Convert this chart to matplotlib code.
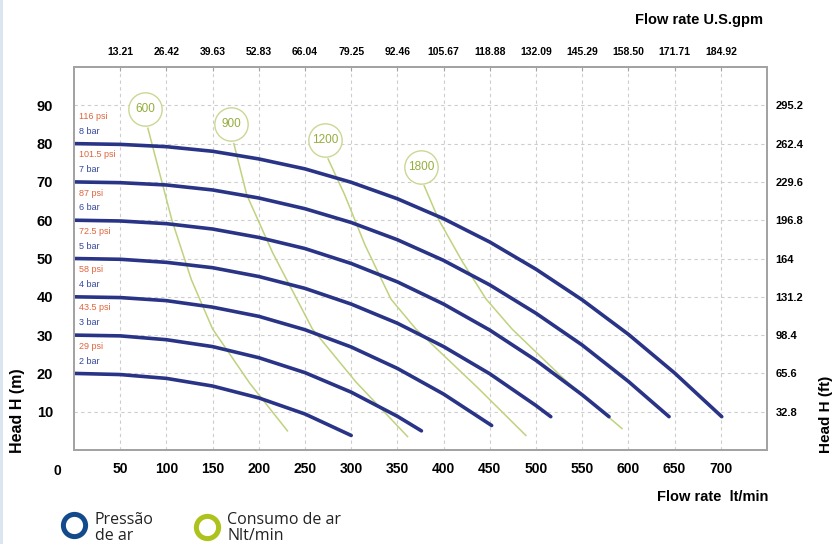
import matplotlib
matplotlib.use("Agg")
import matplotlib.pyplot as plt
from matplotlib.lines import Line2D
from matplotlib.patches import Rectangle

plt.rcParams["font.family"] = ["Liberation Sans", "DejaVu Sans"]
plt.rcParams["font.weight"] = "bold"

# Pump curves per air pressure: flow (l/min) -> head (m)
flow_2bar = [0, 50, 100, 150, 200, 250, 300]
head_2bar = [20, 19.7, 18.7, 16.7, 13.6, 9.4, 3.8]
flow_3bar = [0, 50, 100, 150, 200, 250, 300, 350, 376]
head_3bar = [30, 29.8, 28.8, 27.0, 24.1, 20.2, 15.1, 8.8, 5.0]
flow_4bar = [0, 50, 100, 150, 200, 250, 300, 350, 400, 452]
head_4bar = [40, 39.8, 39.0, 37.3, 34.9, 31.4, 26.9, 21.3, 14.6, 6.4]
flow_5bar = [0, 50, 100, 150, 200, 250, 300, 350, 400, 450, 500, 516]
head_5bar = [50, 49.8, 49.0, 47.6, 45.3, 42.2, 38.1, 33.1, 27.0, 19.9, 11.6, 8.7]
flow_6bar = [0, 50, 100, 150, 200, 250, 300, 350, 400, 450, 500, 550, 579]
head_6bar = [60, 59.8, 59.1, 57.7, 55.5, 52.6, 48.7, 43.9, 38.1, 31.3, 23.4, 14.4, 8.7]
flow_7bar = [0, 50, 100, 150, 200, 250, 300, 350, 400, 450, 500, 550, 600, 644]
head_7bar = [70, 69.8, 69.2, 67.9, 65.8, 63.0, 59.4, 54.9, 49.5, 43.1, 35.7, 27.4, 17.9, 8.7]
flow_8bar = [0, 50, 100, 150, 200, 250, 300, 350, 400, 450, 500, 550, 600, 650, 701]
head_8bar = [80, 79.8, 79.2, 78.0, 76.0, 73.4, 69.9, 65.6, 60.4, 54.3, 47.2, 39.2, 30.2, 20.1, 8.7]

bar_labels = ["2 bar", "3 bar", "4 bar", "5 bar", "6 bar", "7 bar", "8 bar"]
psi_labels = ["29 psi", "43.5 psi", "58 psi", "72.5 psi", "87 psi", "101.5 psi", "116 psi"]

# Air consumption curves (Nl/min)
air_600_flow = [80, 106, 127, 150, 190, 231]
air_600_head = [84, 60, 44.5, 31.6, 17.5, 5.0]
air_900_flow = [173, 187, 215, 258, 305, 361]
air_900_head = [80, 66.6, 51.5, 31.6, 17.8, 3.5]
air_1200_flow = [275, 293, 315, 343, 370, 438, 489]
air_1200_head = [76, 66.6, 53.5, 39.4, 31.6, 16.0, 3.8]
air_1800_flow = [379, 395, 420, 446, 474, 530, 593]
air_1800_head = [69, 60, 49.3, 39.4, 31.6, 18.6, 5.6]
air_labels = ["600", "900", "1200", "1800"]

# Axis ticks
flow_ticks = [50, 100, 150, 200, 250, 300, 350, 400, 450, 500, 550, 600, 650, 700]
gpm_labels = ["13.21", "26.42", "39.63", "52.83", "66.04", "79.25", "92.46",
              "105.67", "118.88", "132.09", "145.29", "158.50", "171.71", "184.92"]
head_ticks = [10, 20, 30, 40, 50, 60, 70, 80, 90]
feet_labels = ["32.8", "65.6", "98.4", "131.2", "164", "196.8", "229.6", "262.4", "295.2"]

pressure_curves = [
    (flow_2bar, head_2bar), (flow_3bar, head_3bar), (flow_4bar, head_4bar),
    (flow_5bar, head_5bar), (flow_6bar, head_6bar), (flow_7bar, head_7bar),
    (flow_8bar, head_8bar),
]
air_curves = [
    (air_600_flow, air_600_head), (air_900_flow, air_900_head),
    (air_1200_flow, air_1200_head), (air_1800_flow, air_1800_head),
]

BLUE = "#2a3487"
GREEN_LINE = "#bfd27e"
GREEN_TEXT = "#93ad3c"
GRID = "#cdcdcd"
FRAME = "#a3a3a3"

fig = plt.figure(figsize=(8.33, 5.44), dpi=100)
fig.patch.set_facecolor("white")
fig.add_artist(Rectangle((0, 0), 0.004, 1, transform=fig.transFigure,
                         facecolor="#dbe5f1", edgecolor="none"))

ax = fig.add_axes([0.0888, 0.1728, 0.832, 0.704])
ax.set_xlim(0, 750)
ax.set_ylim(0, 100)

ax.set_xticks(flow_ticks)
ax.set_yticks(head_ticks)
ax.grid(True, linestyle=(0, (3, 3)), color=GRID, linewidth=0.8)
ax.set_axisbelow(True)
ax.tick_params(axis="x", length=0, pad=9, labelsize=10)
ax.tick_params(axis="y", length=0, pad=15, labelsize=10.5)
ax.text(-18, -0.036, "0", transform=ax.get_xaxis_transform(),
        ha="center", va="top", fontsize=10, clip_on=False)

for sp in ax.spines.values():
    sp.set_color(FRAME)
    sp.set_linewidth(1.2)

# air consumption lines with ringed labels
for (fx, hy), lab in zip(air_curves, air_labels):
    ax.plot(fx, hy, color=GREEN_LINE, linewidth=1.1, zorder=2)
    cx, cy = fx[0] - 3, hy[0] + 5
    ax.plot([cx], [cy], marker="o", markersize=24, markerfacecolor="white",
            markeredgecolor="#c9d893", markeredgewidth=1.0, zorder=4)
    ax.text(cx, cy, lab, ha="center", va="center", fontsize=8.5,
            fontweight="normal", color=GREEN_TEXT, zorder=5)

# pressure lines and their labels
for (fx, hy), bl, pl in zip(pressure_curves, bar_labels, psi_labels):
    ax.plot(fx, hy, color=BLUE, linewidth=2.6, solid_capstyle="round", zorder=3)
    ax.text(5, hy[0] + 3.2, bl, ha="left", va="center", fontsize=6.5,
            fontweight="normal", color="#34479c", zorder=5)
    ax.text(5, hy[0] + 7.1, pl, ha="left", va="center", fontsize=6.5,
            fontweight="normal", color="#e0643c", zorder=5)

# secondary scales: US gpm on top, feet on the right
ax_top = ax.twiny()
ax_top.set_xlim(ax.get_xlim())
ax_top.set_xticks(flow_ticks)
ax_top.set_xticklabels(gpm_labels)
ax_top.tick_params(axis="x", direction="in", length=3, color=FRAME, pad=7, labelsize=7.5)

ax_right = ax.twinx()
ax_right.set_ylim(ax.get_ylim())
ax_right.set_yticks(head_ticks)
ax_right.set_yticklabels(feet_labels)
ax_right.tick_params(axis="y", length=0, pad=6, labelsize=8)
for a in (ax_top, ax_right):
    for sp in a.spines.values():
        sp.set_color(FRAME)
        sp.set_linewidth(1.2)

fig.text(0.839, 0.963, "Flow rate U.S.gpm", ha="center", va="center", fontsize=10.5)
fig.text(0.855, 0.086, "Flow rate  lt/min", ha="center", va="center", fontsize=10.5)
fig.text(0.021, 0.245, "Head H (m)", ha="center", va="center", rotation=90, fontsize=11.5)
fig.text(0.991, 0.239, "Head H (ft)", ha="center", va="center", rotation=90, fontsize=11)

# legend rings
fig.add_artist(Line2D([0.0888], [0.035], marker="o", markersize=16,
                      markerfacecolor="white", markeredgecolor="#124a8c",
                      markeredgewidth=3.6, transform=fig.transFigure))
fig.add_artist(Line2D([0.2485], [0.031], marker="o", markersize=16,
                      markerfacecolor="white", markeredgecolor="#adc21b",
                      markeredgewidth=3.6, transform=fig.transFigure))
fig.text(0.114, 0.059, "Pressão\nde ar", ha="left", va="top", fontsize=11.5,
         fontweight="normal", family="Open Sans", linespacing=0.98, color="#222222")
fig.text(0.273, 0.059, "Consumo de ar\nNlt/min", ha="left", va="top", fontsize=11.5,
         fontweight="normal", family="Open Sans", linespacing=0.98, color="#222222")

fig.savefig("out.png", dpi=100, facecolor="white")
